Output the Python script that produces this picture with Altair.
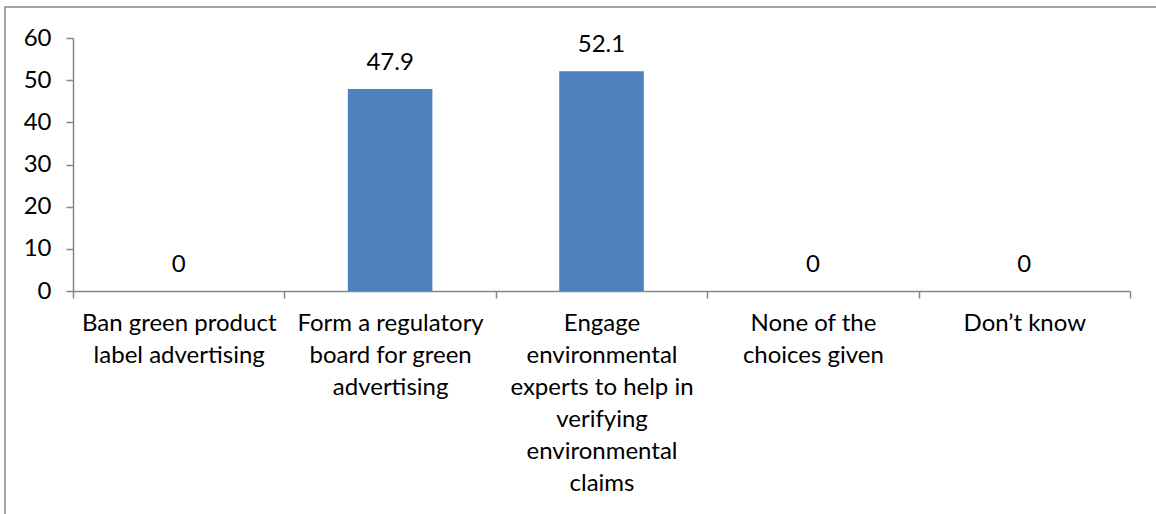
import altair as alt
import pandas as pd

categories = [
    "Ban green product label advertising",
    "Form a regulatory board for green advertising",
    "Engage environmental experts to help in verifying environmental claims",
    "None of the choices given",
    "Don\u2019t know",
]
label_lines = [
    ["Ban green product", "label advertising"],
    ["Form a regulatory", "board for green", "advertising"],
    ["Engage", "environmental", "experts to help in", "verifying", "environmental", "claims"],
    ["None of the", "choices given"],
    ["Don\u2019t know"],
]
values = [0, 47.9, 52.1, 0, 0]
y_ticks = [0, 10, 20, 30, 40, 50, 60]

df = pd.DataFrame({"category": categories, "value": values})

# build label expression mapping category -> wrapped lines
expr = ""
for cat, lines in zip(categories, label_lines):
    arr = "[" + ",".join("'" + l.replace("'", "\\'") + "'" for l in lines) + "]"
    expr += "datum.label == '" + cat.replace("'", "\\'") + "' ? " + arr + " : "
expr += "datum.label"

FONT = "Lato"
FS = 24
GRAY = "#868686"

x = alt.X(
    "category:N",
    sort=categories,
    scale=alt.Scale(paddingInner=0, paddingOuter=0),
    axis=alt.Axis(
        title=None,
        labelAngle=0,
        labelExpr=expr,
        labelFont=FONT,
        labelFontSize=FS,
        labelColor="#000000",
        labelLineHeight=32,
        labelPadding=13,
        labelBaseline="top",
        labelLimit=400,
        tickBand="extent",
        tickSize=7,
        tickColor=GRAY,
        domainColor=GRAY,
        domainWidth=1.5,
        tickWidth=1.5,
        grid=False,
    ),
)
y = alt.Y(
    "value:Q",
    scale=alt.Scale(domain=[0, 60], nice=False),
    axis=alt.Axis(
        title=None,
        values=y_ticks,
        labelFont=FONT,
        labelFontSize=FS,
        labelColor="#000000",
        labelPadding=15,
        tickSize=7,
        tickColor=GRAY,
        domainColor=GRAY,
        domainWidth=1.5,
        tickWidth=1.5,
        grid=False,
    ),
)

bars = alt.Chart(df).mark_bar(
    color="#4F81BD", width=alt.RelativeBandSize(0.4)
).encode(x=x, y=y)
text = alt.Chart(df).mark_text(
    font=FONT, fontSize=FS, color="#000000", dy=-19, baseline="alphabetic"
).encode(x=alt.X("category:N", sort=categories), y="value:Q", text="value:Q")

border = alt.Chart(pd.DataFrame({"a": [0]})).mark_rect(
    filled=False, stroke=GRAY, strokeWidth=1.5
).encode(
    x=alt.value(-68), x2=alt.value(1100), y=alt.value(-31), y2=alt.value(500)
)

chart = (
    alt.layer(border, bars, text)
    .properties(
        width=1057,
        height=253,
        padding={"left": 73, "top": 38, "right": 26, "bottom": 223},
        autosize=alt.AutoSizeParams(type="none"),
        background="white",
    )
    .configure_view(stroke=None)
)

chart.save("out.html", embed_options={"renderer": "svg", "actions": False})
